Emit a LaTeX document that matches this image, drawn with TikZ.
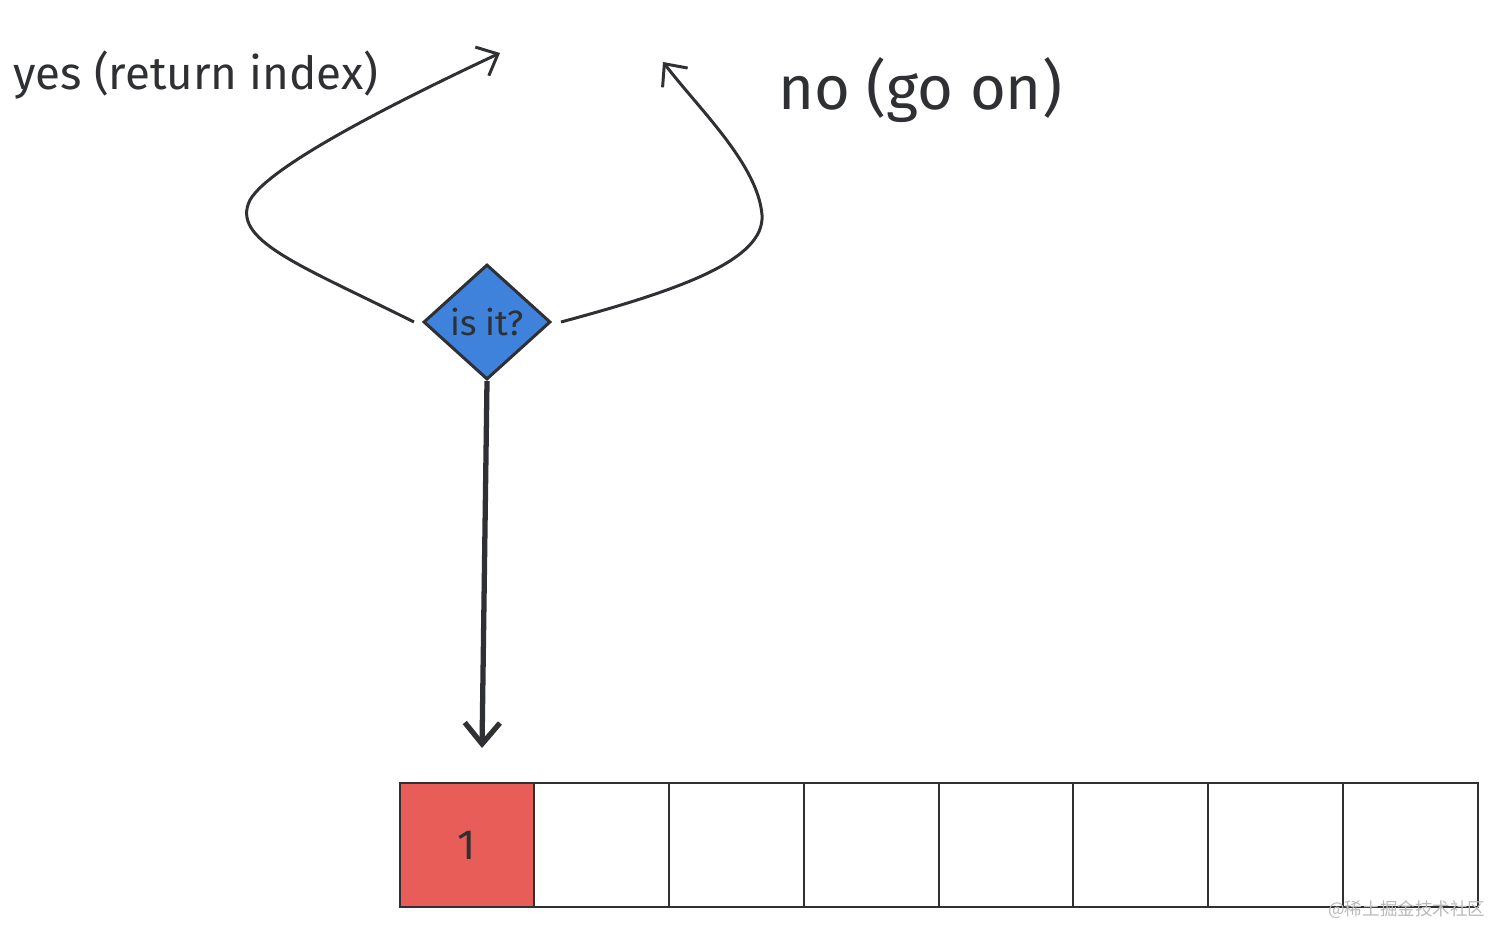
\documentclass[tikz,border=0pt]{standalone}
\usepackage{fontspec}
\setmainfont{Fira Sans}
\newfontfamily\cjkfont{Noto Sans CJK SC}
\usetikzlibrary{arrows.meta, positioning, shapes.geometric}
\definecolor{inkgray}{HTML}{2F3033}
\definecolor{diablue}{HTML}{3F82DC}
\definecolor{cellred}{HTML}{E85D58}

\begin{document}
\begin{tikzpicture}[x=0.01cm, y=-0.01cm, >={Straight Barb[length=5pt, width=9pt]}, draw=inkgray, text=inkgray, line width=0.85pt]
  \useasboundingbox (0,0) rectangle (1512,946);

  % Rozhodovací kosočtverec
  \node[diamond, draw, fill=diablue, minimum width=1.27cm, minimum height=1.15cm, inner sep=0pt, font=\fontsize{10}{12}\selectfont] (check) at (487,322) {is it?};

  % Popisky větví
  \node[anchor=west, inner sep=0pt, font=\fontsize{13}{15}\selectfont] (yeslabel) at (12,75) {yes (return index)};
  \node[anchor=west, inner sep=0pt, font=\fontsize{17.5}{20}\selectfont] (nolabel) at (777,90) {no (go on)};

  % Konce šipek
  \coordinate (yesend) at (500,53);
  \coordinate (noend) at (663,62);
  \coordinate (pointer) at (482,748);

  % Větev ano
  \draw[->] ([xshift=-0.08cm]check.west) .. controls (300,265) and (230,240) .. (250,200) .. controls (270,165) and (400,100) .. (yesend);
  % Větev ne
  \draw[->] ([xshift=0.09cm]check.east) .. controls (680,290) and (765,260) .. (762,215) .. controls (758,165) and (700,110) .. (noend);

  % Políčka pole
  \tikzset{cell/.style={draw, minimum width=1.3475cm, minimum height=1.24cm, inner sep=0pt, line width=0.6pt}}
  \node[cell, fill=cellred, font=\fontsize{12}{14}\selectfont] (cell0) at (467,845) {1};
  \foreach \i in {1,...,7}
    \node[cell] (cell\i) at ({467+134.75*\i},845) {};

  % Ukazatel na první prvek
  \draw[->, line width=1.5pt, >={Straight Barb[length=6pt, width=10pt]}] (check.south) -- (pointer);

  % Vodoznak
  \node[anchor=east, inner sep=0pt, text=gray!55, font=\cjkfont\fontsize{5}{6}\selectfont] (mark) at (1487,910) {@稀土掘金技术社区};
\end{tikzpicture}
\end{document}
